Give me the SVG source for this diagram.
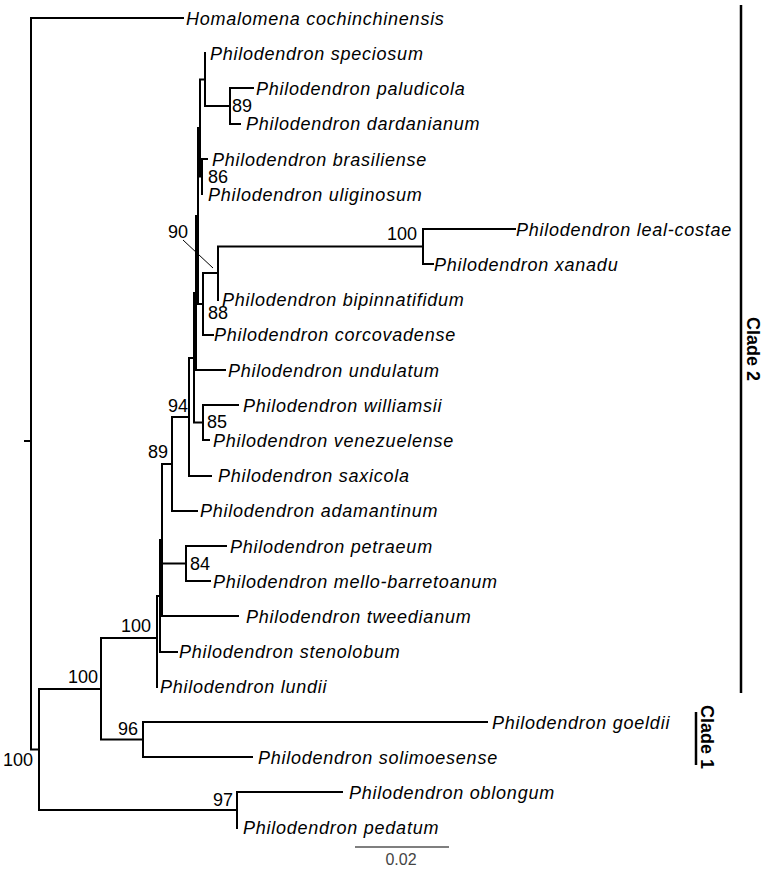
<svg xmlns="http://www.w3.org/2000/svg" width="766" height="869" viewBox="0 0 766 869">
<style>
.br{fill:none;stroke:#000;stroke-width:2;stroke-linecap:square}
.tx{font-family:"Liberation Sans",Arial,sans-serif;font-style:italic;font-size:18px;letter-spacing:0.75px;fill:#000}
.bs{font-family:"Liberation Sans",Arial,sans-serif;font-size:18px;fill:#000}
.cl{font-family:"Liberation Sans",Arial,sans-serif;font-weight:bold;font-size:18px;fill:#000}
.bar{stroke:#000;stroke-width:2.5}
</style>
<rect width="766" height="869" fill="#fff"/>
<g id="connectors">
<path class="br" d="M31,18H183 M31,18V749.5 M25,441H31 M31,749.5H39 M39,689V810
M39,689H101 M101,638V739.5 M101,638H157 M101,739.5H143 M143,722V757 M143,722H487 M143,757H252
M39,810H237 M237,792V828 M237,792H342
M157,596V687 M157,596H160 M160,540V652 M160,652H177 M160,540H162 M162,464V616 M162,616H238
M162,563.5H186 M186,546V581 M186,546H226 M186,581H210
M162,464H172 M172,417V511 M172,511H197 M172,417H189 M189,358V476 M189,476H211 M189,358H194
M194,293V422.5 M194,422.5H203 M203,405V440 M203,405H238 M203,440H209
M194,293H196 M196,216V370 M196,370H225 M196,216H198 M198,128V304 M198,304H203
M203,273V335 M203,335H213 M203,273H218 M218,246.5V300 M218,246.5H423 M423,229V264 M423,229H515 M423,264H433
M198,128H200 M200,79.5V176.5 M200,176.5H202 M202,159V194 M202,159H207
M200,79.5H205 M205,53V106 M205,106H230 M230,88V124 M230,88H253 M230,124H240"/>
<line x1="183" y1="240" x2="213" y2="268" stroke="#000" stroke-width="1"/>
</g>
<g id="taxa">
<g id="n-homalomena"><text class="tx" x="186" y="24.5">Homalomena cochinchinensis</text></g>
<g id="n-speciosum"><text class="tx" x="210" y="59.5">Philodendron speciosum</text></g>
<g id="n-paludicola"><text class="tx" x="256" y="94.5">Philodendron paludicola</text></g>
<g id="n-dardanianum"><text class="tx" x="246" y="130">Philodendron dardanianum</text></g>
<g id="n-brasiliense"><text class="tx" x="212" y="165.5">Philodendron brasiliense</text></g>
<g id="n-uliginosum"><text class="tx" x="208" y="200.5">Philodendron uliginosum</text></g>
<g id="n-lealcostae"><text class="tx" x="516" y="235.5">Philodendron leal-costae</text></g>
<g id="n-xanadu"><text class="tx" x="434" y="270.5">Philodendron xanadu</text></g>
<g id="n-bipinnatifidum"><text class="tx" x="222" y="306">Philodendron bipinnatifidum</text></g>
<g id="n-corcovadense"><text class="tx" x="214" y="341">Philodendron corcovadense</text></g>
<g id="n-undulatum"><text class="tx" x="228" y="376.5">Philodendron undulatum</text></g>
<g id="n-williamsii"><text class="tx" x="243" y="411.5">Philodendron williamsii</text></g>
<g id="n-venezuelense"><text class="tx" x="213" y="446.5">Philodendron venezuelense</text></g>
<g id="n-saxicola"><text class="tx" x="218" y="482">Philodendron saxicola</text></g>
<g id="n-adamantinum"><text class="tx" x="200" y="517">Philodendron adamantinum</text></g>
<g id="n-petraeum"><text class="tx" x="230" y="552.5">Philodendron petraeum</text></g>
<g id="n-mellobarretoanum"><text class="tx" x="213" y="587.5">Philodendron mello-barretoanum</text></g>
<g id="n-tweedianum"><text class="tx" x="246" y="623">Philodendron tweedianum</text></g>
<g id="n-stenolobum"><text class="tx" x="179" y="658">Philodendron stenolobum</text></g>
<g id="n-lundii"><text class="tx" x="160" y="693">Philodendron lundii</text></g>
<g id="n-goeldii"><text class="tx" x="492" y="728.5">Philodendron goeldii</text></g>
<g id="n-solimoesense"><text class="tx" x="258" y="763.5">Philodendron solimoesense</text></g>
<g id="n-oblongum"><text class="tx" x="349" y="798.5">Philodendron oblongum</text></g>
<g id="n-pedatum"><text class="tx" x="243" y="834">Philodendron pedatum</text></g>
</g>
<g id="support">
<text class="bs" x="232" y="112">89</text>
<text class="bs" x="208" y="183">86</text>
<text class="bs" x="168" y="238">90</text>
<text class="bs" x="208" y="319">88</text>
<text class="bs" x="387" y="240">100</text>
<text class="bs" x="168" y="412">94</text>
<text class="bs" x="207" y="428">85</text>
<text class="bs" x="148" y="458">89</text>
<text class="bs" x="190" y="570">84</text>
<text class="bs" x="121" y="632">100</text>
<text class="bs" x="68" y="683">100</text>
<text class="bs" x="118" y="735">96</text>
<text class="bs" x="3" y="766">100</text>
<text class="bs" x="213" y="806">97</text>
</g>
<g id="scale">
<line x1="355" y1="847" x2="449" y2="847" stroke="#555" stroke-width="1.3"/>
<text x="401" y="865" text-anchor="middle" font-family="Liberation Sans, Arial, sans-serif" font-size="16" fill="#444">0.02</text>
</g>
<g id="clade2">
<line class="bar" x1="741" y1="5" x2="741" y2="693"/>
<text class="cl" text-anchor="middle" transform="translate(747,349) rotate(90)">Clade 2</text>
</g>
<g id="clade1">
<line class="bar" x1="696" y1="712" x2="696" y2="765"/>
<text class="cl" text-anchor="middle" transform="translate(701,737) rotate(90)">Clade 1</text>
</g>
</svg>
